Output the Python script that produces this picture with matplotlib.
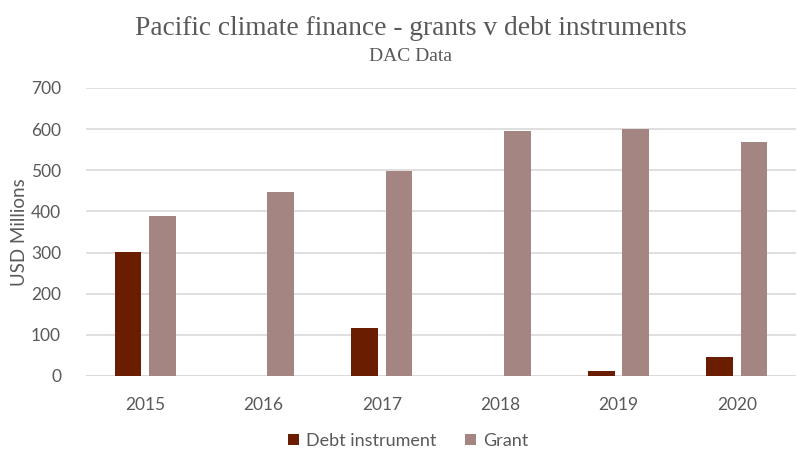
import matplotlib
matplotlib.use("Agg")
import matplotlib.pyplot as plt
import numpy as np

years = ["2015", "2016", "2017", "2018", "2019", "2020"]
debt = [301, 0, 116, 0, 13, 45]
grant = [389, 448, 498, 595, 601, 568]
yticks = [0, 100, 200, 300, 400, 500, 600, 700]

debt_color = "#6A1D00"
grant_color = "#A48581"
text_color = "#595959"
grid_color = "#D9D9D9"

plt.rcParams['font.family'] = ['Lato', 'DejaVu Sans']

fig = plt.figure(figsize=(7.97, 4.51), dpi=100)
ax = fig.add_axes([86/797, 1-376/451, (796-86)/797, (376-88)/451])

x = np.arange(len(years))
w = 0.225
off = 0.145
ax.bar(x - off, debt, width=w, color=debt_color, label="Debt instrument", zorder=3)
ax.bar(x + off, grant, width=w, color=grant_color, label="Grant", zorder=3)

ax.set_xlim(-0.5, len(years) - 0.5)
ax.set_ylim(0, 700)
ax.set_yticks(yticks)
ax.set_xticks(x)
ax.set_xticklabels(years)
ax.tick_params(axis='both', length=0, labelsize=12.5, colors=text_color)
ax.tick_params(axis='y', pad=18)
ax.tick_params(axis='x', pad=15)
ax.yaxis.grid(True, color=grid_color, linewidth=1.2, zorder=0)
for s in ax.spines.values():
    s.set_visible(False)
ax.axhline(0, color=grid_color, linewidth=1.2, zorder=1)

ax.set_ylabel("USD Millions", fontsize=13.5, color=text_color, labelpad=2)

fig.text(0.515, 0.937, "Pacific climate finance - grants v debt instruments",
         ha='center', va='center', fontsize=19.8, color=text_color,
         family=['Liberation Serif', 'DejaVu Serif'])
fig.text(0.515, 0.875, "DAC Data", ha='center', va='center', fontsize=14,
         color=text_color, family=['Liberation Serif', 'DejaVu Serif'])

leg = fig.legend(loc='center', bbox_to_anchor=(0.512, 0.022), ncol=2, frameon=False,
                 fontsize=13, handlelength=0.6, handleheight=0.6, handletextpad=0.4,
                 columnspacing=1.6)
for t in leg.get_texts():
    t.set_color(text_color)

fig.savefig("out.png", dpi=100)
